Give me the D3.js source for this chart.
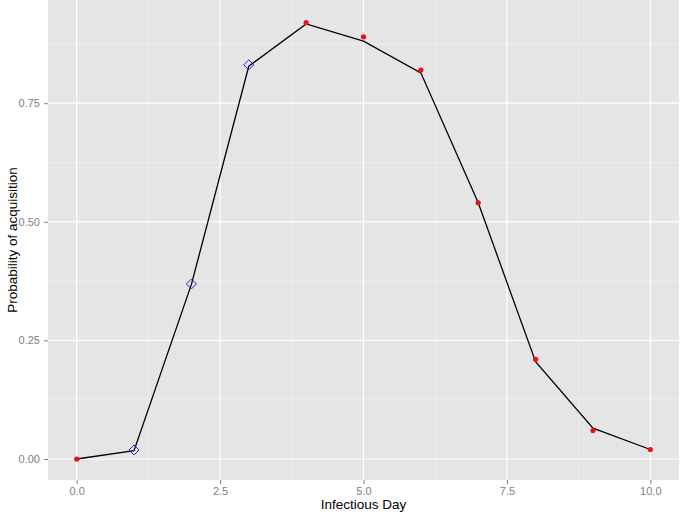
<!DOCTYPE html>
<html>
<head>
<meta charset="utf-8">
<script src="https://cdn.jsdelivr.net/npm/d3@7"></script>
<style>
  body { margin: 0; background: #fff; }
  svg { display: block; font-family: "Liberation Sans", Arial, sans-serif; }
</style>
</head>
<body>
<div id="chart"></div>
<script>
// line through the model values
var lineDays = [0, 1, 2, 3, 4, 5, 6, 7, 8, 9, 10];
var lineProb = [0, 0.0175, 0.368, 0.828, 0.917, 0.881, 0.814, 0.54, 0.205, 0.065, 0.02];

// observed points, red dots
var redDays = [0, 4, 5, 6, 7, 8, 9, 10];
var redProb = [0, 0.92, 0.89, 0.82, 0.54, 0.21, 0.06, 0.02];

// blue diamonds
var blueDays = [1, 2, 3];
var blueProb = [0.019, 0.369, 0.831];

var xTicks = [0, 2.5, 5, 7.5, 10];
var yTicks = [0, 0.25, 0.5, 0.75];
var xMinor = [1.25, 3.75, 6.25, 8.75];
var yMinor = [0.125, 0.375, 0.625, 0.875];

var W = 685, H = 514;
var m = {left: 48, right: 6, top: 0, bottom: 34};

var svg = d3.select("#chart").append("svg").attr("width", W).attr("height", H);

var x = d3.scaleLinear().domain([-0.5, 10.5]).range([m.left, W - m.right]);
var y = d3.scaleLinear().domain([-0.0443, 0.9676]).range([H - m.bottom, m.top]);

// panel
svg.append("rect")
  .attr("x", m.left).attr("y", m.top)
  .attr("width", W - m.right - m.left).attr("height", H - m.bottom - m.top)
  .attr("fill", "#e5e5e5");

var grid = svg.append("g");
grid.selectAll(".xmin").data(xMinor).enter().append("line")
  .attr("x1", d => x(d)).attr("x2", d => x(d))
  .attr("y1", m.top).attr("y2", H - m.bottom)
  .attr("stroke", "#f2f2f2").attr("stroke-width", 0.6);
grid.selectAll(".ymin").data(yMinor).enter().append("line")
  .attr("y1", d => y(d)).attr("y2", d => y(d))
  .attr("x1", m.left).attr("x2", W - m.right)
  .attr("stroke", "#f2f2f2").attr("stroke-width", 0.6);
grid.selectAll(".xmaj").data(xTicks).enter().append("line")
  .attr("x1", d => x(d)).attr("x2", d => x(d))
  .attr("y1", m.top).attr("y2", H - m.bottom)
  .attr("stroke", "#fff").attr("stroke-width", 1.2);
grid.selectAll(".ymaj").data(yTicks).enter().append("line")
  .attr("y1", d => y(d)).attr("y2", d => y(d))
  .attr("x1", m.left).attr("x2", W - m.right)
  .attr("stroke", "#fff").attr("stroke-width", 1.2);

// axes
var xAxis = svg.append("g")
  .attr("transform", "translate(0," + (H - m.bottom) + ")")
  .call(d3.axisBottom(x).tickValues(xTicks).tickFormat(d3.format(".1f")).tickSize(4).tickPadding(3));
var yAxis = svg.append("g")
  .attr("transform", "translate(" + m.left + ",0)")
  .call(d3.axisLeft(y).tickValues(yTicks).tickFormat(d3.format(".2f")).tickSize(4).tickPadding(4));
[xAxis, yAxis].forEach(function(a) {
  a.select(".domain").remove();
  a.selectAll(".tick line").attr("stroke", "#7f7f7f");
  a.selectAll(".tick text").attr("fill", "#7f7f7f").style("font-size", "11px");
});

// line
var pts = lineDays.map((d, i) => [d, lineProb[i]]);
svg.append("path")
  .datum(pts)
  .attr("d", d3.line().x(d => x(d[0])).y(d => y(d[1])))
  .attr("fill", "none").attr("stroke", "#000").attr("stroke-width", 1.3);

// red points
svg.selectAll(".red").data(redDays).enter().append("circle")
  .attr("cx", d => x(d)).attr("cy", (d, i) => y(redProb[i]))
  .attr("r", 2.6).attr("fill", "#ee1111");

// blue diamonds
svg.selectAll(".blue").data(blueDays).enter().append("path")
  .attr("transform", (d, i) => "translate(" + x(d) + "," + y(blueProb[i]) + ")")
  .attr("d", "M0,-5L5,0L0,5L-5,0Z")
  .attr("fill", "none").attr("stroke", "#2222dd").attr("stroke-width", 1);

// titles
svg.append("text")
  .attr("x", (m.left + W - m.right) / 2).attr("y", H - 5)
  .attr("text-anchor", "middle").style("font-size", "13.5px").attr("fill", "#000")
  .text("Infectious Day");
svg.append("text")
  .attr("transform", "translate(17," + ((m.top + H - m.bottom) / 2) + ") rotate(-90)")
  .attr("text-anchor", "middle").style("font-size", "13.5px").attr("fill", "#000")
  .text("Probability of acquisition");
</script>
</body>
</html>
